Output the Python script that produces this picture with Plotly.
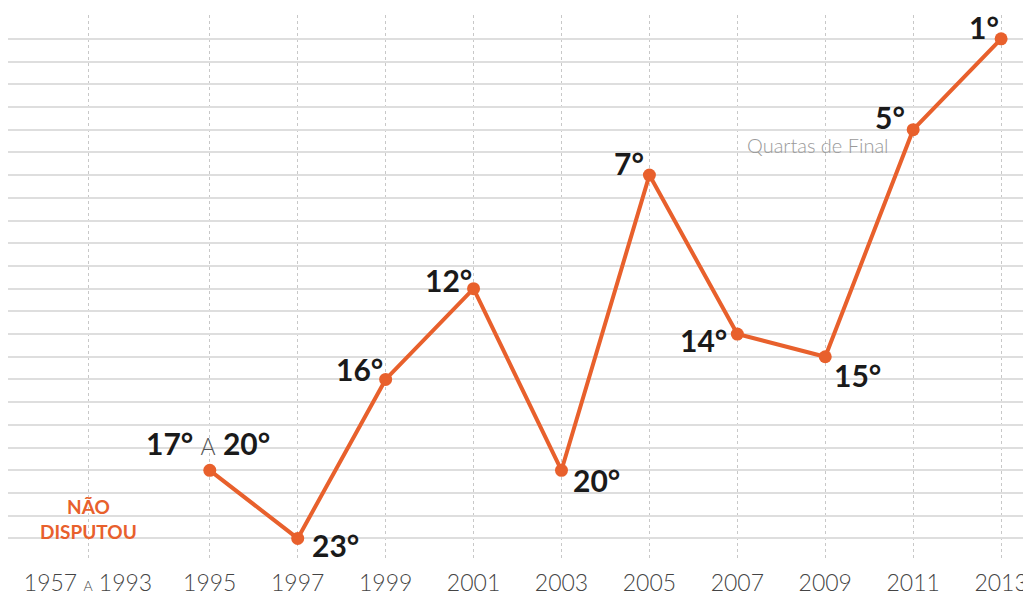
import plotly.graph_objects as go

# Data
tick_labels = ["1957 A 1993", "1995", "1997", "1999", "2001", "2003",
               "2005", "2007", "2009", "2011", "2013"]
years = [1995, 1997, 1999, 2001, 2003, 2005, 2007, 2009, 2011, 2013]
ranks = [20, 23, 16, 12, 20, 7, 14, 15, 5, 1]
point_labels = ["17° A 20°", "23°", "16°", "12°", "20°", "7°", "14°", "15°", "5°", "1°"]
not_played_label = "NÃO<br>DISPUTOU"
note_label = "Quartas de Final"
note_year = 2011
note_rank = 5.66

# Label placement (style): anchor, x offset px, y offset px (positive = up)
label_layout = [("center", -2, 27), ("left", 12, -7), ("right", -1, 10), ("right", 0, 9),
                ("left", 10, -10), ("right", -3, 12), ("right", -8, -6), ("left", 7, -18),
                ("right", -6, 13), ("right", 0, 12)]

ORANGE = "#E8602C"
FIRST_POS = 1992.23  # horizontal position of the "1957 A 1993" column

tick_vals = [FIRST_POS] + years
tick_text = []
for t in tick_labels:
    if " A " in t:
        a, b = t.split(" A ")
        tick_text.append(f"{a} <span style='font-size:14px'>A</span> {b}")
    else:
        tick_text.append(t)

fig = go.Figure()
fig.add_trace(go.Scatter(
    x=years, y=ranks,
    mode="lines+markers",
    line=dict(color=ORANGE, width=4),
    marker=dict(color=ORANGE, size=13),
    hoverinfo="skip",
    cliponaxis=False,
))

for yr, rk, lab, (anc, dx, dy) in zip(years, ranks, point_labels, label_layout):
    if " A " in lab:
        a, b = lab.split(" A ")
        lab = f"{a} <span style='font-size:23px;font-weight:300;color:#555'>A</span> {b}"
    fig.add_annotation(
        x=yr, y=rk, text=lab, showarrow=False,
        xanchor=anc, yanchor="middle", xshift=dx, yshift=dy,
        font=dict(family="Lato", size=30, color="#1a1a1a", weight="bold"),
    )

fig.add_annotation(
    x=FIRST_POS, y=22.15, text=not_played_label, showarrow=False,
    font=dict(family="Lato", size=19, color=ORANGE, weight="bold"),
    xanchor="center", yanchor="middle",
)
fig.add_annotation(
    x=note_year, y=note_rank, text=note_label, showarrow=False,
    font=dict(family="Lato", size=20, color="#9a9a9a", weight=300),
    xanchor="right", yanchor="middle", xshift=-22,
)

fig.update_layout(
    width=1023, height=591,
    margin=dict(l=0, r=0, t=7, b=39),
    paper_bgcolor="white", plot_bgcolor="white",
    showlegend=False,
    xaxis=dict(
        range=[1990.41, 2013.68],
        tickmode="array", tickvals=tick_vals, ticktext=tick_text,
        showgrid=True, gridcolor="#c8c8c8", gridwidth=1, griddash="dot",
        zeroline=False, showline=False, ticks="",
        tickfont=dict(family="Lato", size=23, color="#444444", weight=300),
        ticklabelstandoff=7,
        fixedrange=True,
    ),
    yaxis=dict(
        range=[23.95, -0.05],
        tickmode="array", tickvals=list(range(1, 24)),
        showticklabels=False,
        showgrid=True, gridcolor="#dedede", gridwidth=2,
        zeroline=False, showline=False, ticks="",
        fixedrange=True,
    ),
)

fig.write_html("out.html")
